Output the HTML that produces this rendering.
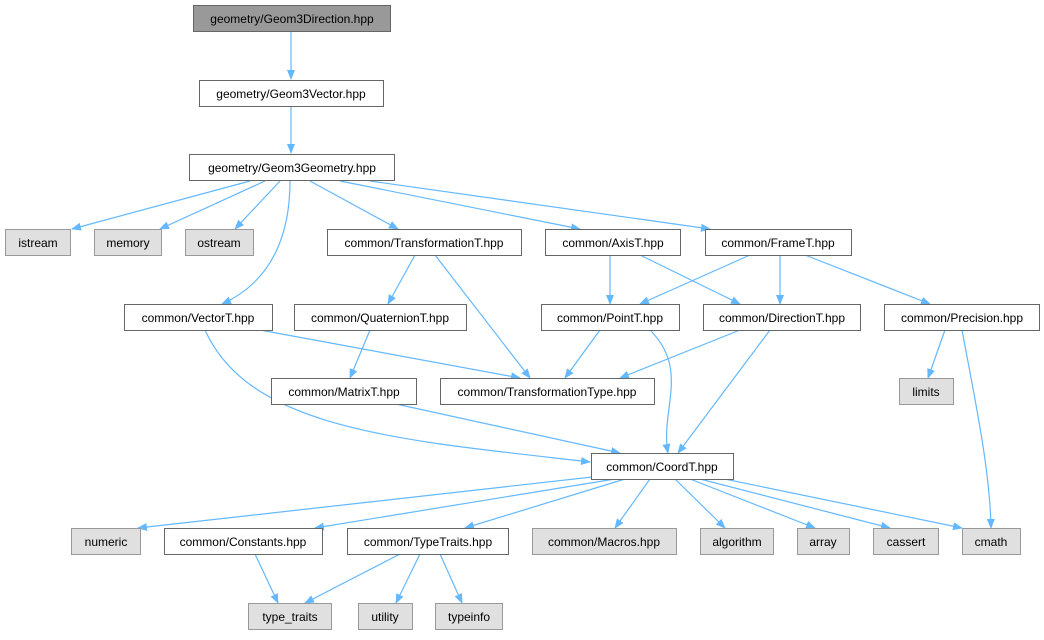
<!DOCTYPE html>
<html><head><meta charset="utf-8"><style>
html,body{margin:0;padding:0;background:#fff;}
svg text{font-family:"Liberation Sans",Arial,sans-serif;font-size:12px;fill:#000;text-anchor:middle;}
</style></head><body>
<svg width="1044" height="635" viewBox="0 0 1044 635" xmlns="http://www.w3.org/2000/svg">
<defs><marker id="a" markerWidth="10" markerHeight="10" refX="9" refY="5" orient="auto" markerUnits="userSpaceOnUse"><path d="M0,1 L10,5 L0,9 z" fill="#63b8ff"/></marker></defs>
<g fill="none" stroke="#63b8ff" stroke-width="1.2" marker-end="url(#a)">
<path d="M291,32 L291,79"/>
<path d="M291,107 L291,153"/>
<path d="M250,181 L72,229"/>
<path d="M265,181 L160,229"/>
<path d="M280,181 L235,229"/>
<path d="M290,181 C290,230 275,280 222,304"/>
<path d="M310,181 L398,229"/>
<path d="M340,181 L580,229"/>
<path d="M370,181 L710,229"/>
<path d="M415,255 L388,304"/>
<path d="M435,255 L530,378"/>
<path d="M610,255 L610,304"/>
<path d="M640,255 L740,304"/>
<path d="M750,255 L640,304"/>
<path d="M780,255 L780,304"/>
<path d="M805,255 L930,304"/>
<path d="M260,330 L520,378"/>
<path d="M205,330 C250,430 400,440 590,462"/>
<path d="M370,330 L350,378"/>
<path d="M600,330 L565,378"/>
<path d="M650,330 C690,370 660,410 668,453"/>
<path d="M740,330 L620,378"/>
<path d="M770,330 L678,453"/>
<path d="M945,330 L928,378"/>
<path d="M962,330 C975,400 990,470 991,528"/>
<path d="M396,404 L620,453"/>
<path d="M610,475 L138,528"/>
<path d="M615,479 L315,528"/>
<path d="M625,479 L465,528"/>
<path d="M650,479 L615,528"/>
<path d="M675,479 L725,528"/>
<path d="M690,479 L815,528"/>
<path d="M700,479 L890,528"/>
<path d="M710,476 L962,528"/>
<path d="M255,554 L278,603"/>
<path d="M400,554 L305,603"/>
<path d="M420,554 L396,603"/>
<path d="M440,554 L462,603"/>
</g>
<g stroke-width="1">
<rect x="193.5" y="5.5" width="197" height="26" fill="#999" stroke="#666"/>
<rect x="199.5" y="80.5" width="184" height="26" fill="#fff" stroke="#666"/>
<rect x="189.5" y="154.5" width="205" height="26" fill="#fff" stroke="#666"/>
<rect x="5.5" y="229.5" width="65" height="26" fill="#e0e0e0" stroke="#999"/>
<rect x="94.5" y="229.5" width="67" height="26" fill="#e0e0e0" stroke="#999"/>
<rect x="185.5" y="229.5" width="68" height="26" fill="#e0e0e0" stroke="#999"/>
<rect x="327.5" y="229.5" width="194" height="26" fill="#fff" stroke="#666"/>
<rect x="545.5" y="229.5" width="135" height="26" fill="#fff" stroke="#666"/>
<rect x="705.5" y="229.5" width="146" height="26" fill="#fff" stroke="#666"/>
<rect x="124.5" y="304.5" width="148" height="26" fill="#fff" stroke="#666"/>
<rect x="294.5" y="304.5" width="172" height="26" fill="#fff" stroke="#666"/>
<rect x="541.5" y="304.5" width="138" height="26" fill="#fff" stroke="#666"/>
<rect x="703.5" y="304.5" width="157" height="26" fill="#fff" stroke="#666"/>
<rect x="884.5" y="304.5" width="155" height="26" fill="#fff" stroke="#666"/>
<rect x="271.5" y="378.5" width="145" height="26" fill="#fff" stroke="#666"/>
<rect x="440.5" y="378.5" width="214" height="26" fill="#fff" stroke="#666"/>
<rect x="899.5" y="378.5" width="54" height="26" fill="#e0e0e0" stroke="#999"/>
<rect x="591.5" y="453.5" width="142" height="26" fill="#fff" stroke="#666"/>
<rect x="71.5" y="528.5" width="69" height="26" fill="#e0e0e0" stroke="#999"/>
<rect x="164.5" y="528.5" width="158" height="26" fill="#fff" stroke="#666"/>
<rect x="347.5" y="528.5" width="161" height="26" fill="#fff" stroke="#666"/>
<rect x="532.5" y="528.5" width="144" height="26" fill="#e0e0e0" stroke="#999"/>
<rect x="700.5" y="528.5" width="73" height="26" fill="#e0e0e0" stroke="#999"/>
<rect x="797.5" y="528.5" width="52" height="26" fill="#e0e0e0" stroke="#999"/>
<rect x="873.5" y="528.5" width="65" height="26" fill="#e0e0e0" stroke="#999"/>
<rect x="962.5" y="528.5" width="58" height="26" fill="#e0e0e0" stroke="#999"/>
<rect x="248.5" y="603.5" width="83" height="26" fill="#e0e0e0" stroke="#999"/>
<rect x="358.5" y="603.5" width="54" height="26" fill="#e0e0e0" stroke="#999"/>
<rect x="435.5" y="603.5" width="67" height="26" fill="#e0e0e0" stroke="#999"/>
</g>
<g>
<text x="292" y="23">geometry/Geom3Direction.hpp</text>
<text x="291" y="98">geometry/Geom3Vector.hpp</text>
<text x="292" y="172">geometry/Geom3Geometry.hpp</text>
<text x="38" y="247">istream</text>
<text x="128" y="247">memory</text>
<text x="219" y="247">ostream</text>
<text x="424" y="247">common/TransformationT.hpp</text>
<text x="613" y="247">common/AxisT.hpp</text>
<text x="778" y="247">common/FrameT.hpp</text>
<text x="198" y="322">common/VectorT.hpp</text>
<text x="380" y="322">common/QuaternionT.hpp</text>
<text x="610" y="322">common/PointT.hpp</text>
<text x="782" y="322">common/DirectionT.hpp</text>
<text x="962" y="322">common/Precision.hpp</text>
<text x="344" y="396">common/MatrixT.hpp</text>
<text x="547" y="396">common/TransformationType.hpp</text>
<text x="926" y="396">limits</text>
<text x="662" y="471">common/CoordT.hpp</text>
<text x="106" y="546">numeric</text>
<text x="243" y="546">common/Constants.hpp</text>
<text x="428" y="546">common/TypeTraits.hpp</text>
<text x="604" y="546">common/Macros.hpp</text>
<text x="737" y="546">algorithm</text>
<text x="823" y="546">array</text>
<text x="906" y="546">cassert</text>
<text x="991" y="546">cmath</text>
<text x="290" y="621">type_traits</text>
<text x="385" y="621">utility</text>
<text x="469" y="621">typeinfo</text>
</g>
</svg>
</body></html>
